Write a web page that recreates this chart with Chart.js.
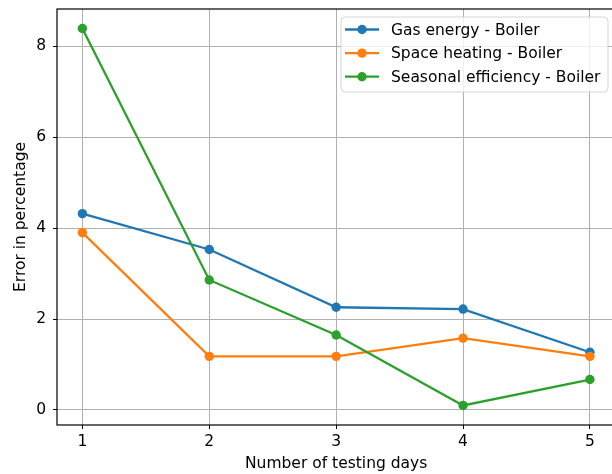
<!DOCTYPE html>
<html>
<head>
<meta charset="utf-8">
<script src="https://cdn.jsdelivr.net/npm/chart.js@4.4.1/dist/chart.umd.min.js"></script>
<style>
  html, body { margin: 0; padding: 0; background: #fff; overflow: hidden; }
  #wrap { width: 620px; height: 474px; }
</style>
</head>
<body>
<div id="wrap"><canvas id="grafica" width="620" height="474"></canvas></div>
<script>
// datos
const dias = [1, 2, 3, 4, 5];
const gasEnergia = [4.32, 3.53, 2.26, 2.22, 1.27];
const calefaccion = [3.9, 1.18, 1.18, 1.58, 1.18];
const eficiencia = [8.39, 2.86, 1.65, 0.1, 0.67];
const etiquetas = [
  "Gas energy - Boiler",
  "Space heating - Boiler",
  "Seasonal efficiency - Boiler",
];
const colores = ["#1f77b4", "#ff7f0e", "#2ca02c"];
const ticksX = [1, 2, 3, 4, 5];
const ticksY = [0, 2, 4, 6, 8];

const series = [gasEnergia, calefaccion, eficiencia];

Chart.defaults.font.family = "DejaVu Sans";
Chart.defaults.font.size = 15.5;
Chart.defaults.color = "#000";

// marco negro y leyenda dentro del area, estilo matplotlib
const marcoYLeyenda = {
  id: "marcoYLeyenda",
  afterDraw(chart) {
    const ctx = chart.ctx;
    const a = chart.chartArea;
    ctx.save();
    ctx.strokeStyle = "#000";
    ctx.lineWidth = 1.2;
    ctx.strokeRect(a.left, a.top, a.right - a.left, a.bottom - a.top);

    // caja de la leyenda
    const x0 = 341, y0 = 17, w = 267, h = 75, r = 4;
    ctx.beginPath();
    ctx.moveTo(x0 + r, y0);
    ctx.arcTo(x0 + w, y0, x0 + w, y0 + h, r);
    ctx.arcTo(x0 + w, y0 + h, x0, y0 + h, r);
    ctx.arcTo(x0, y0 + h, x0, y0, r);
    ctx.arcTo(x0, y0, x0 + w, y0, r);
    ctx.closePath();
    ctx.fillStyle = "rgba(255,255,255,0.8)";
    ctx.fill();
    ctx.strokeStyle = "rgba(204,204,204,0.8)";
    ctx.lineWidth = 1;
    ctx.stroke();

    ctx.font = "15.5px 'DejaVu Sans'";
    ctx.textBaseline = "middle";
    ctx.textAlign = "left";
    etiquetas.forEach((t, i) => {
      const yy = 29.5 + i * 23.6;
      ctx.strokeStyle = colores[i];
      ctx.lineWidth = 2.3;
      ctx.beginPath();
      ctx.moveTo(345, yy);
      ctx.lineTo(379, yy);
      ctx.stroke();
      ctx.fillStyle = colores[i];
      ctx.beginPath();
      ctx.arc(362, yy, 4.7, 0, Math.PI * 2);
      ctx.fill();
      ctx.fillStyle = "#000";
      ctx.fillText(t, 391, yy + 1);
    });
    ctx.restore();
  },
};

const ctx1 = document.getElementById("grafica").getContext("2d");

new Chart(ctx1, {
  type: "line",
  data: {
    datasets: series.map((s, i) => ({
      label: etiquetas[i],
      data: s.map((v, j) => ({ x: dias[j], y: v })),
      borderColor: colores[i],
      backgroundColor: colores[i],
      pointBackgroundColor: colores[i],
      borderWidth: 2.3,
      pointRadius: 4.7,
      pointBorderWidth: 0,
      pointHoverRadius: 4.7,
      tension: 0,
      order: 3 - i,
    })),
  },
  options: {
    responsive: false,
    animation: false,
    events: [],
    layout: { padding: { top: 9, right: 4, left: 0, bottom: 0 } },
    plugins: {
      legend: { display: false },
      tooltip: { enabled: false },
    },
    scales: {
      x: {
        type: "linear",
        min: 0.8,
        max: 5.2,
        afterBuildTicks: (s) => {
          s.ticks = ticksX.map((v) => ({ value: v }));
        },
        afterFit: (s) => {
          s.height = 49;
          s.paddingLeft = 0;
          s.paddingRight = 0;
        },
        grid: {
          color: "#b0b0b0",
          lineWidth: 1,
          tickColor: "#000",
          tickLength: 4,
        },
        border: { display: false },
        ticks: { padding: 4, maxRotation: 0 },
        title: {
          display: true,
          text: "Number of testing days",
          padding: { top: 0, bottom: 0.5 },
        },
      },
      y: {
        min: -0.33,
        max: 8.82,
        afterBuildTicks: (s) => {
          s.ticks = ticksY.map((v) => ({ value: v }));
        },
        afterFit: (s) => {
          s.width = 57;
          s.paddingTop = 0;
          s.paddingBottom = 0;
        },
        grid: {
          color: "#b0b0b0",
          lineWidth: 1,
          tickColor: "#000",
          tickLength: 4,
        },
        border: { display: false },
        ticks: { padding: 7 },
        title: {
          display: true,
          text: "Error in percentage",
          padding: { top: 11.5, bottom: 0 },
        },
      },
    },
  },
  plugins: [marcoYLeyenda],
});
</script>
</body>
</html>
